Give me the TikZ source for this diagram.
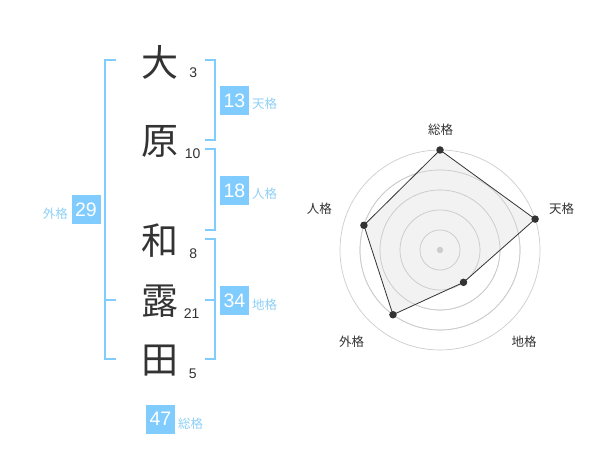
\documentclass[tikz,border=0pt]{standalone}
\usepackage{fontspec}
\setmainfont{Liberation Sans}
\newfontfamily\jp{Noto Sans CJK JP}
\definecolor{blu}{HTML}{80CCFF}
\definecolor{blulbl}{HTML}{8ED0F6}
\definecolor{ink}{HTML}{333333}
\definecolor{ring}{HTML}{CCCCCC}
\definecolor{area}{HTML}{F0F0F0}
\tikzset{
  kanji/.style={inner sep=0pt, text=ink, font=\jp\fontsize{37}{37}\selectfont},
  stroke/.style={inner sep=0pt, text=ink, font=\fontsize{14}{14}\selectfont},
  numbox/.style={fill=blu, text=white, minimum width=29pt, minimum height=29pt, inner sep=0pt, font=\fontsize{19.5}{19.5}\selectfont},
  kaku/.style={inner sep=0pt, text=blulbl, font=\jp\fontsize{12.5}{13}\selectfont},
  brk/.style={draw=blu, line width=2pt},
  rlabel/.style={inner sep=0pt, text=ink, font=\jp\fontsize{12.5}{13}\selectfont},
  ringc/.style={draw=ring, line width=0.7pt},
  vdot/.style={circle, fill=ink, inner sep=0pt, minimum size=7.5pt},
}
\begin{document}
\begin{tikzpicture}[x=1pt,y=-1pt]
\useasboundingbox (0,0) rectangle (600,470);
% characters
\node[kanji] (c1) at (160,62) {大};
\node[kanji] (c2) at (160,141) {原};
\node[kanji] (c3) at (160,241) {和};
\node[kanji] (c4) at (160,301) {露};
\node[kanji] (c5) at (160,361) {田};
% stroke counts
\node[stroke] (n1) at (193.3,72.7) {3};
\node[stroke] (n2) at (192.7,153.3) {10};
\node[stroke] (n3) at (193.3,253.3) {8};
\node[stroke] (n4) at (191.7,313.3) {21};
\node[stroke] (n5) at (192.7,373.3) {5};
% brackets
\draw[brk] (116,60) -- (105,60) -- (105,359.3) -- (116,359.3);
\draw[brk] (105,300) -- (116,300);
\draw[brk] (205,60) -- (214.5,60) -- (214.5,140) -- (205,140);
\draw[brk] (205,149.3) -- (214.5,149.3) -- (214.5,230) -- (205,230);
\draw[brk] (205,239.3) -- (214.5,239.3) -- (214.5,359.3) -- (205,359.3);
\draw[brk] (205,300) -- (214.5,300);
% boxes and labels
\node[numbox] (b1) at (234.5,100.5) {13};
\node[kaku, anchor=west] (l1) at (252,104) {天格};
\node[numbox] (b2) at (234.5,190.5) {18};
\node[kaku, anchor=west] (l2) at (252,194) {人格};
\node[numbox] (b3) at (234.5,300.5) {34};
\node[kaku, anchor=west] (l3) at (252,305) {地格};
\node[numbox] (b4) at (86,210) {29};
\node[kaku, anchor=east] (l4) at (68,213.5) {外格};
\node[numbox] (b5) at (160.5,419) {47};
\node[kaku, anchor=west] (l5) at (178,423.5) {総格};
% radar
\begin{scope}[shift={(440,250)},yscale=-1]
  \foreach \r in {20,40,60,80,100} \draw[ringc] (0,0) circle (\r);
  \coordinate (vS) at (90:100);
  \coordinate (vT) at (18:100);
  \coordinate (vC) at (-54:40);
  \coordinate (vG) at (-126:80);
  \coordinate (vJ) at (162:80);
  \fill[area, fill opacity=0.85] (vS) -- (vT) -- (vC) -- (vG) -- (vJ) -- cycle;
  \foreach \r in {20,40,60,80} \draw[ringc] (0,0) circle (\r);
  \draw[ink, line width=0.8pt, line join=round] (vS) -- (vT) -- (vC) -- (vG) -- (vJ) -- cycle;
  \fill[ring] (0,0) circle (3.2);
  \node[vdot] (dS) at (vS) {};
  \node[vdot] (dT) at (vT) {};
  \node[vdot] (dC) at (vC) {};
  \node[vdot] (dG) at (vG) {};
  \node[vdot] (dJ) at (vJ) {};
\end{scope}
\node[rlabel] (rS) at (440.7,130) {総格};
\node[rlabel] (rT) at (561.7,208.3) {天格};
\node[rlabel] (rC) at (524,341.7) {地格};
\node[rlabel] (rG) at (351.7,341.7) {外格};
\node[rlabel] (rJ) at (319.3,208.3) {人格};
\end{tikzpicture}
\end{document}
